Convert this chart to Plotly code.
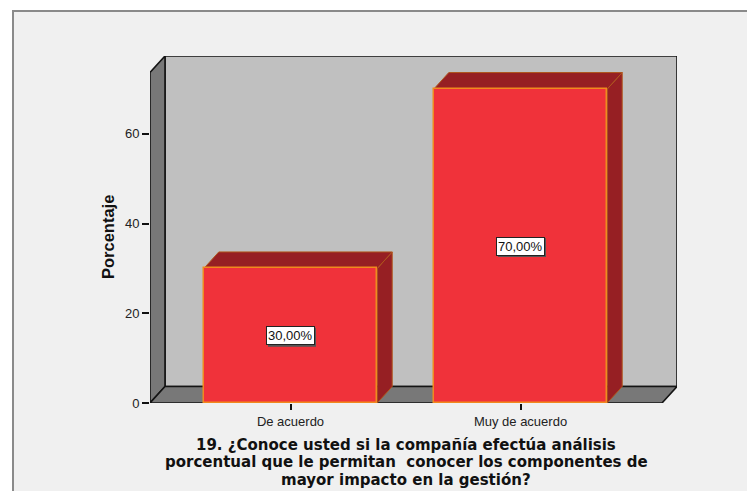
import plotly.graph_objects as go

# ---- data -------------------------------------------------------------
categories = ["De acuerdo", "Muy de acuerdo"]
percentages = [30.0, 70.0]
y_ticks = [0, 20, 40, 60]

question_lines = [
    "19. ¿Conoce usted si la compañía efectúa análisis",
    "porcentual que le permitan  conocer los componentes de",
    "mayor impacto en la gestión?",
]
y_title = "Porcentaje"

# ---- layout geometry ----------------------------------------------------
W, H = 747, 491
ML, MR, MT, MB = 150, 70, 56, 88
PW, PH = W - ML - MR, H - MT - MB

SX = 230.0          # pixels per category step
SY = 4.485          # pixels per percentage point
DEPTH_X, DEPTH_Y = 15.0, 16.5   # 3D depth in pixels

x_lo = -140.5 / SX
x_hi = x_lo + PW / SX
y_lo = 0.0
y_hi = PH / SY

ddx = DEPTH_X / SX
ddy = DEPTH_Y / SY
x_front_right = x_hi - ddx
y_front_top = y_hi - ddy

BAR_W = 0.754

BACK_WALL = "#c0c0c0"
SIDE_WALL = "#787878"
EDGE = "#141414"
BAR_FRONT = "#f0323a"
BAR_DARK = "#961f23"
BAR_EDGE = "#f08a1e"

LABEL_FONT = dict(family="Liberation Sans", size=13, color="#111111")


def poly(points):
    return "M " + " L ".join(f"{x} {y}" for x, y in points) + " Z"


def px_to_paper(px, py):
    return (px - ML) / PW, (H - MB - py) / PH


shapes = []

# outer panel
fx0, fy0 = px_to_paper(13, 11)
fx1, fy1 = px_to_paper(W + 20, H + 20)
shapes.append(dict(type="rect", xref="paper", yref="paper", layer="below",
                   x0=fx0, y0=fy1, x1=fx1, y1=fy0,
                   fillcolor="#f0f0f0", line=dict(color="#8a8a8a", width=2)))

# back wall
shapes.append(dict(type="rect", xref="x", yref="y", layer="below",
                   x0=x_lo + ddx, y0=ddy, x1=x_hi, y1=y_hi,
                   fillcolor=BACK_WALL, line=dict(color=EDGE, width=1.6)))
# left wall
shapes.append(dict(type="path", xref="x", yref="y", layer="below",
                   path=poly([(x_lo, 0), (x_lo, y_front_top), (x_lo + ddx, y_hi),
                              (x_lo + ddx, ddy)]),
                   fillcolor=SIDE_WALL, line=dict(color=EDGE, width=1.6)))
# floor
shapes.append(dict(type="path", xref="x", yref="y", layer="below",
                   path=poly([(x_lo, 0), (x_front_right, 0), (x_hi, ddy),
                              (x_lo + ddx, ddy)]),
                   fillcolor=SIDE_WALL, line=dict(color=EDGE, width=1.6)))

# bar top and side faces
for i, v in enumerate(percentages):
    xl, xr = i - BAR_W / 2, i + BAR_W / 2
    shapes.append(dict(type="path", xref="x", yref="y", layer="below",
                       path=poly([(xr, 0), (xr, v), (xr + ddx, v + ddy), (xr + ddx, ddy)]),
                       fillcolor=BAR_DARK, line=dict(color="#b0561c", width=1)))
    shapes.append(dict(type="path", xref="x", yref="y", layer="below",
                       path=poly([(xl, v), (xl + ddx, v + ddy), (xr + ddx, v + ddy), (xr, v)]),
                       fillcolor=BAR_DARK, line=dict(color="#b0561c", width=1)))
    # drop shadow behind the value label box
    shapes.append(dict(type="rect", xref="x", yref="y", layer="above",
                       xsizemode="pixel", ysizemode="pixel", xanchor=i, yanchor=v / 2,
                       x0=-22.5, x1=25.5, y0=-11, y1=8,
                       fillcolor="#555555", line=dict(width=0)))

fig = go.Figure()
fig.add_trace(go.Bar(
    x=list(range(len(categories))), y=percentages, width=BAR_W,
    marker=dict(color=BAR_FRONT, line=dict(color=BAR_EDGE, width=1.5)),
    hoverinfo="skip", showlegend=False,
))

annotations = []
for i, v in enumerate(percentages):
    label = f"{v:.2f}".replace(".", ",") + "%"
    annotations.append(dict(x=i, y=v / 2, xref="x", yref="y", text=label, showarrow=False,
                            font=LABEL_FONT,
                            bgcolor="white", bordercolor="#222222", borderwidth=1, borderpad=1))

# y axis title
tx, ty = px_to_paper(108, 237)
annotations.append(dict(x=tx, y=ty, xref="paper", yref="paper", text=f"<b>{y_title}</b>",
                        textangle=-90, showarrow=False, xanchor="center", yanchor="middle",
                        font=dict(family="Liberation Sans", size=16.5, color="#111111")))

# chart title below the axis
for k, line in enumerate(question_lines):
    lx, ly = px_to_paper(406, 444.5 + 17.5 * k)
    annotations.append(dict(x=lx, y=ly, xref="paper", yref="paper",
                            text=f"<b>{line.replace('  ', ' &nbsp;')}</b>",
                            showarrow=False, xanchor="center", yanchor="middle",
                            borderpad=0, borderwidth=0,
                            font=dict(family="DejaVu Sans", size=15, color="#111111")))

fig.update_layout(
    width=W, height=H,
    margin=dict(l=ML, r=MR, t=MT, b=MB, pad=0),
    paper_bgcolor="white", plot_bgcolor="rgba(0,0,0,0)",
    shapes=shapes, annotations=annotations,
    bargap=0,
    xaxis=dict(range=[x_lo, x_hi], tickvals=list(range(len(categories))), ticktext=categories,
               showgrid=False, zeroline=False, showline=False,
               ticks="outside", ticklen=6, tickwidth=1.5, tickcolor="#111111",
               tickfont=dict(family="Liberation Sans", size=13, color="#222222"),
               fixedrange=True),
    yaxis=dict(range=[y_lo, y_hi], tickvals=y_ticks,
               showgrid=False, zeroline=False, showline=False,
               ticks="outside", ticklen=7, tickwidth=1.5, tickcolor="#111111",
               tickfont=dict(family="Liberation Sans", size=13, color="#222222"),
               fixedrange=True),
)

fig.write_html("out.html", config=dict(displayModeBar=False))
